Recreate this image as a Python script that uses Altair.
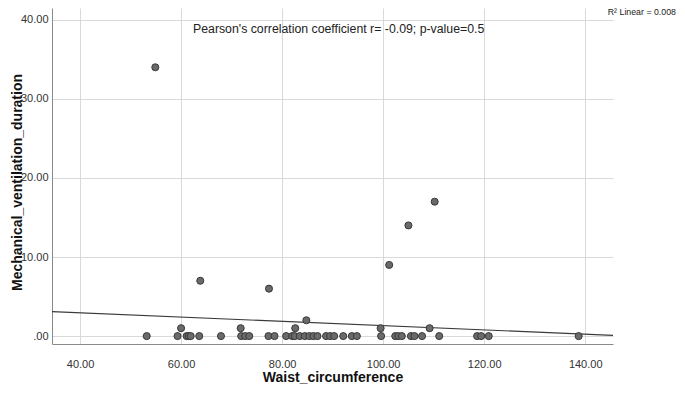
import altair as alt
import pandas as pd

# Waist circumference (x) and mechanical ventilation duration (y)
waist_zero = [53.2, 59.3, 61.1, 61.5, 61.9, 63.6, 67.9, 71.9, 72.7, 73.5, 77.3, 78.5,
              80.8, 82.0, 82.5, 83.5, 84.5, 85.4, 86.2, 87.0, 88.7, 89.5, 90.3, 92.1,
              93.8, 94.8, 99.6, 102.4, 103.0, 103.7, 105.5, 106.2, 107.7, 111.1, 118.6,
              119.4, 120.9, 138.7]
waist_pos = [54.9, 63.8, 77.4, 101.2, 105.0, 110.2, 60.0, 71.8, 82.6, 99.5, 109.2, 84.8]
mv_pos = [34, 7, 6, 9, 14, 17, 1, 1, 1, 1, 1, 2]

waist = waist_zero + waist_pos
mv = [0] * len(waist_zero) + mv_pos

# Linear fit line as drawn in the reference (ends)
fit_x = [34.45, 145.5]
fit_y = [3.1, 0.09]

x_ticks = [40, 60, 80, 100, 120, 140]
y_ticks = [0, 10, 20, 30, 40]
x_domain = [34.45, 145.5]
y_domain = [-1.0, 41.5]

annot_text = "Pearson's correlation coefficient r= -0.09; p-value=0.5"
r2_text = "R\u00b2 Linear = 0.008"

df = pd.DataFrame({"Waist_circumference": waist, "Mechanical_ventilation_duration": mv})
fit_df = pd.DataFrame({"Waist_circumference": fit_x, "Mechanical_ventilation_duration": fit_y})

FONT = "Liberation Sans"

x_enc = alt.X(
    "Waist_circumference:Q",
    scale=alt.Scale(domain=x_domain, nice=False, zero=False),
    axis=alt.Axis(
        values=x_ticks, format=".2f", title="Waist_circumference",
        grid=True, gridColor="#d9d9d9", gridWidth=1,
        domainColor="#8a8a8a", domainWidth=1, ticks=False,
        labelFont=FONT, labelFontSize=11, labelColor="#333333", labelPadding=14,
        titleFont=FONT, titleFontSize=14, titleFontWeight="bold", titleColor="#111111",
        titleY=33, titleBaseline="middle",
    ),
)
y_enc = alt.Y(
    "Mechanical_ventilation_duration:Q",
    scale=alt.Scale(domain=y_domain, nice=False, zero=False),
    axis=alt.Axis(
        values=y_ticks, title="Mechanical_ventilation_duration",
        labelExpr="datum.value == 0 ? '.00' : format(datum.value, '.2f')",
        grid=True, gridColor="#d9d9d9", gridWidth=1,
        domainColor="#8a8a8a", domainWidth=1, ticks=False,
        labelFont=FONT, labelFontSize=11, labelColor="#333333", labelPadding=4,
        titleFont=FONT, titleFontSize=14, titleFontWeight="bold", titleColor="#111111",
        titleX=-35, titleY=174, titleAngle=-90, titleAlign="center", titleBaseline="middle",
    ),
)

points = alt.Chart(df).mark_point(
    filled=True, size=50, fill="#6a6a6a", stroke="#383838", strokeWidth=1, opacity=1
).encode(x=x_enc, y=y_enc)

line = alt.Chart(fit_df).mark_line(color="#3a3a3a", strokeWidth=1.2, clip=True).encode(
    x="Waist_circumference:Q", y="Mechanical_ventilation_duration:Q"
)

annot = alt.Chart(pd.DataFrame({"t": [annot_text]})).mark_text(
    font=FONT, fontSize=12.3, color="#222222", align="left", baseline="middle"
).encode(x=alt.value(141), y=alt.value(21), text="t:N")

r2 = alt.Chart(pd.DataFrame({"t": [r2_text]})).mark_text(
    font=FONT, fontSize=8.8, color="#222222", align="right", baseline="middle"
).encode(x=alt.value(624), y=alt.value(4), text="t:N")

chart = alt.layer(line, points, annot, r2).properties(
    width=561, height=336,
    autosize=alt.AutoSizeParams(type="none"),
    padding={"left": 44, "top": 0, "right": 64, "bottom": 44},
    background="white",
).configure_view(stroke=None)

chart.save("out.html", embed_options={"renderer": "svg", "actions": False})
